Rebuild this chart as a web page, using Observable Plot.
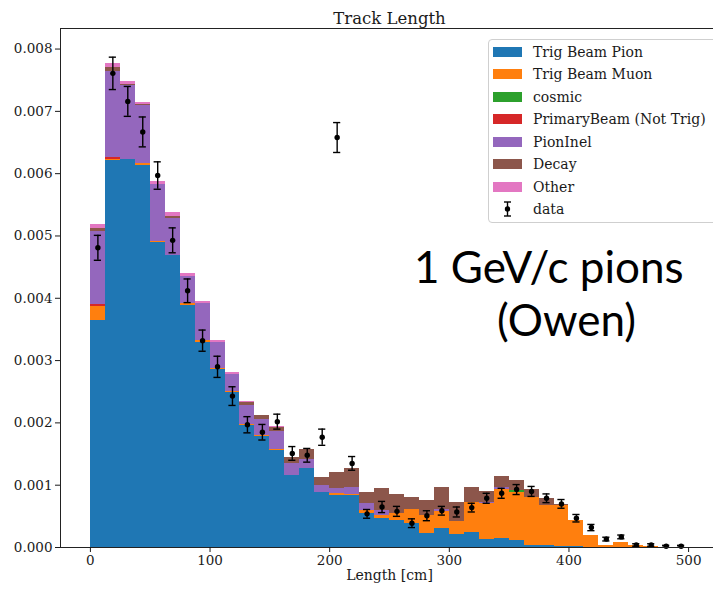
<!DOCTYPE html>
<html><head><meta charset="utf-8">
<script src="https://cdn.jsdelivr.net/npm/d3@7"></script>
<script src="https://cdn.jsdelivr.net/npm/@observablehq/plot@0.6"></script>
<style>
html,body{margin:0;padding:0;background:#fff;overflow:hidden;}
#wrap{position:relative;width:713px;height:590px;overflow:hidden;background:#fff;}
#wrap svg{position:absolute;left:0;top:0;}
.legend{position:absolute;left:488px;top:39px;width:240px;height:184px;border:1px solid #cfcfcf;border-radius:4px;background:rgba(255,255,255,0.8);font-family:"DejaVu Serif";font-size:14px;color:#1a1a1a;box-sizing:border-box;}
.sw{position:absolute;left:4px;width:29px;height:10px;}
.lab{position:absolute;left:44px;white-space:nowrap;line-height:16px;}
.note{position:absolute;font-family:Lato;font-size:44px;line-height:44px;color:#000;white-space:nowrap;}
</style></head><body><div id="wrap"></div>
<script>
// ---------- data ----------
const binWidth = 12.5;
const binStarts = [0,12.5,25,37.5,50,62.5,75,87.5,100,112.5,125,137.5,150,162.5,175,187.5,200,212.5,225,237.5,
  250,262.5,275,287.5,300,312.5,325,337.5,350,362.5,375,387.5,400,412.5,425,437.5,450,462.5,475,487.5];

const seriesNames = ["Trig Beam Pion","Trig Beam Muon","cosmic","PrimaryBeam (Not Trig)","PionInel","Decay","Other"];
const seriesColors = ["#1f77b4","#ff7f0e","#2ca02c","#d62728","#9467bd","#8c564b","#e377c2"];

const trigBeamPion = [0.00364,0.00621,0.00622,0.00613,0.00489,0.00468,0.00388,0.00329,0.00285,0.00248,
  0.00196,0.00178,0.00156,0.00115,0.00126,0.00088,0.00083,0.00084,0.00054,0.00047,
  0.00043,0.00039,0.000225,0.00031,0.000215,0.00024,0.000135,0.00015,0.00012,0.00004,
  0.00003,0.00002,0.00002,0.000005,0,0,0,0,0,0];
const trigBeamMuon = [0.000235,0.000025,0.00001,0.00003,0.00002,0.000005,0.00003,0.00003,0.00002,0.00002,
  0.00002,0.00002,0.00002,0.00001,0.00001,0.000005,0.00003,0.00001,0.00005,0.00004,
  0.00011,0.000225,0.000285,0.000267,0.0002,0.00048,0.00057,0.00078,0.00077,0.00077,
  0.00065,0.00066,0.00041,0.00018,0.00003,0.00008,0.00003,0.00001,0.000005,0];
const cosmic = [0,0,0,0,0,0,0,0,0,0, 0,0,0,0,0,0,0,0,0,0, 0,0,0,0,0,0,0,0.000005,0.00002,0, 0,0,0,0,0,0,0,0,0,0];
const primaryBeam = [0.00002,0.00002,0,0,0,0,0,0,0,0, 0,0,0,0,0,0,0,0,0,0, 0,0,0,0,0,0,0,0,0,0, 0,0,0,0,0,0,0,0,0,0];
const pionInel = [0.00117,0.00139,0.00118,0.00094,0.00091,0.00059,0.00044,0.00059,0.00042,0.00027,
  0.0003,0.00026,0.00028,0.00019,0.00014,0.00011,0.00008,0.00012,0.00011,0.00008,
  0.00001,0,0.00001,0.00004,0,0,0.00002,0.00002,0,0, 0,0,0,0,0,0,0,0,0,0];
const decay = [0.00006,0.00006,0.00002,0.00001,0.00001,0.00003,0.000005,0.000005,0.000005,0.000005,
  0.00005,0.00006,0.00007,0.00009,0.000155,0.000135,0.00026,0.0003,0.00019,0.00035,
  0.0003,0.00018,0.00024,0.00034,0.00031,0.00024,0.00018,0.00019,0.00016,0.00012,
  0.0001,0.00001,0.00001,0,0,0,0,0,0,0];
const other = [0.00006,0.00006,0.00005,0.00004,0.00004,0.00007,0.00004,0.00003,0.00003,0.00003,
  0.00001,0.000005,0.00001,0.000005,0,0,0,0,0,0, 0,0,0,0,0,0,0,0,0,0, 0,0,0,0,0,0,0,0,0,0];

const dataValues = [0.00481,0.00761,0.00716,0.00667,0.00597,0.00493,0.00412,0.00332,0.0029,0.00243,
  0.00197,0.00185,0.00202,0.00151,0.00148,0.00177,0.00658,0.00135,0.00054,0.00065,
  0.00058,0.00039,0.00051,0.00059,0.00057,0.00064,0.00079,0.00087,0.00093,0.0009,
  0.00079,0.0007,0.00047,0.00032,0.000135,0.00017,0.00004,0.00004,0.00002,0.00002];
const dataErrors = [0.0002,0.00026,0.00024,0.00024,0.00022,0.0002,0.00019,0.00017,0.00017,0.00015,
  0.00013,0.000125,0.00012,0.00011,0.00011,0.00013,0.00024,0.00011,0.00007,0.00009,
  0.00008,0.00007,0.00008,0.00007,0.00008,0.00007,0.00008,0.00008,0.00008,0.00008,
  0.00007,0.00007,0.00006,0.00005,0.00003,0.00003,0.00002,0.00002,0.000015,0.000015];

const xTicks = [0,100,200,300,400,500];
const yTicks = [0,0.001,0.002,0.003,0.004,0.005,0.006,0.007,0.008];
const titleText = "Track Length";
const xLabel = "Length [cm]";
const dataLabel = "data";
const noteLines = ["1 GeV/c pions", "(Owen)"];

// ---------- build ----------
const seriesValues = [trigBeamPion, trigBeamMuon, cosmic, primaryBeam, pionInel, decay, other];
const rows = [];
seriesNames.forEach((name, i) => {
  binStarts.forEach((s, j) => rows.push({x1: s, x2: s + binWidth, series: name, value: seriesValues[i][j]}));
});
const pts = binStarts.map((s, j) => ({x: s + binWidth / 2, y: dataValues[j], e: dataErrors[j]}));
const capHalf = 3;

const chart = Plot.plot({
  width: 713, height: 590,
  marginLeft: 60, marginRight: -5, marginTop: 28, marginBottom: 43,
  style: {fontFamily: "DejaVu Serif", fontSize: "13.5px", color: "#1a1a1a", overflow: "hidden", background: "white"},
  x: {domain: [-25, 525]},
  y: {domain: [0, 0.00833]},
  color: {domain: seriesNames, range: seriesColors},
  marks: [
    Plot.rectY(rows, {x1: "x1", x2: "x2", y: "value", fill: "series", order: seriesNames, shapeRendering: "crispEdges"}),
    Plot.ruleX(pts, {x: "x", y1: d => d.y - d.e, y2: d => d.y + d.e, stroke: "black", strokeWidth: 1.4}),
    Plot.ruleY(pts, {y: d => d.y - d.e, x1: d => d.x - capHalf, x2: d => d.x + capHalf, stroke: "black", strokeWidth: 1.4}),
    Plot.ruleY(pts, {y: d => d.y + d.e, x1: d => d.x - capHalf, x2: d => d.x + capHalf, stroke: "black", strokeWidth: 1.4}),
    Plot.dot(pts, {x: "x", y: "y", r: 2.7, fill: "black", stroke: "none"}),
    Plot.frame({stroke: "#222", strokeWidth: 1}),
    Plot.axisX({ticks: xTicks, tickSize: 5, tickPadding: 3, label: null}),
    Plot.axisY({ticks: yTicks, tickSize: 5, tickPadding: 3, tickFormat: d3.format(".3f"), label: null}),
    Plot.text([titleText], {frameAnchor: "top", lineAnchor: "bottom", dy: -5, fontSize: 16.5, fill: "#1a1a1a"}),
    Plot.text([xLabel], {frameAnchor: "bottom", lineAnchor: "top", dy: 23, fontSize: 14, fill: "#1a1a1a"})
  ]
});
const wrap = document.getElementById("wrap");
wrap.appendChild(chart);

// legend
const leg = document.createElement("div");
leg.className = "legend";
const rowStep = 22.45, firstRow = 12;
seriesNames.forEach((name, i) => {
  const cy = firstRow + i * rowStep;
  const sw = document.createElement("div");
  sw.className = "sw"; sw.style.top = (cy - 5) + "px"; sw.style.background = seriesColors[i];
  const lab = document.createElement("div");
  lab.className = "lab"; lab.style.top = (cy - 8) + "px"; lab.textContent = name;
  leg.appendChild(sw); leg.appendChild(lab);
});
{
  const cy = firstRow + seriesNames.length * rowStep;
  const ns = "http://www.w3.org/2000/svg";
  const s = document.createElementNS(ns, "svg");
  s.setAttribute("width", 29); s.setAttribute("height", 18);
  s.style.position = "absolute"; s.style.left = "4px"; s.style.top = (cy - 9) + "px";
  s.innerHTML = '<line x1="14.5" x2="14.5" y1="2" y2="16" stroke="black" stroke-width="1.4"/>' +
    '<line x1="11" x2="18" y1="2" y2="2" stroke="black" stroke-width="1.4"/>' +
    '<line x1="11" x2="18" y1="16" y2="16" stroke="black" stroke-width="1.4"/>' +
    '<circle cx="14.5" cy="9" r="2.7" fill="black"/>';
  leg.appendChild(s);
  const lab = document.createElement("div");
  lab.className = "lab"; lab.style.top = (cy - 8) + "px"; lab.textContent = dataLabel;
  leg.appendChild(lab);
}
wrap.appendChild(leg);

// annotation
const n1 = document.createElement("div");
n1.className = "note"; n1.style.left = "414px"; n1.style.top = "244px"; n1.textContent = noteLines[0];
const n2 = document.createElement("div");
n2.className = "note"; n2.style.left = "497px"; n2.style.top = "297px"; n2.textContent = noteLines[1];
wrap.appendChild(n1); wrap.appendChild(n2);
</script></body></html>
